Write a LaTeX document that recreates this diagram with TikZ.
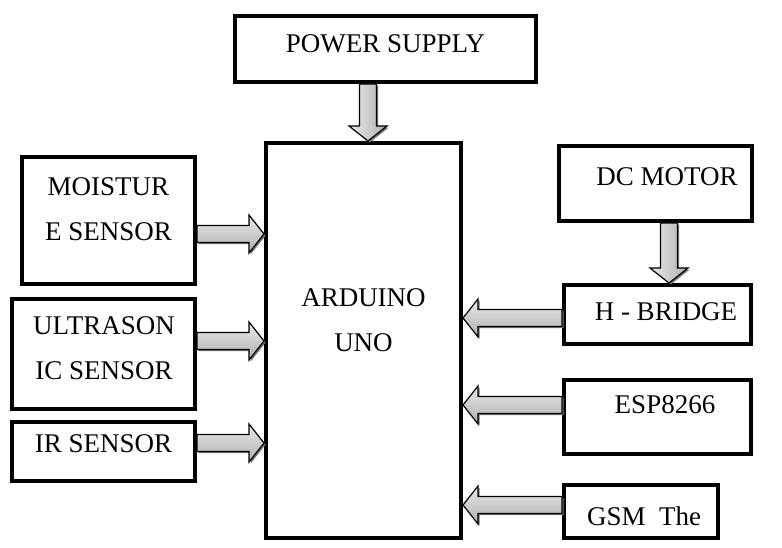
\documentclass[tikz,border=0pt]{standalone}
\usepackage{fontspec}
\setmainfont{Liberation Serif}
\usetikzlibrary{calc}
\tikzset{
  box/.style={draw=black, line width=4pt, fill=white, inner sep=0pt, rectangle},
  txt/.style={font=\fontsize{27}{45}\selectfont, inner sep=0pt, anchor=north, align=center},
  arrbody/.style={draw=black, line width=1.2pt, line join=miter},
  arrshadow/.style={fill=black!55},
  hshade/.style={top color=black!8, bottom color=black!32},
  vshade/.style={left color=black!8, right color=black!32}
}
\newcommand\blockarr[3]{%
  \coordinate (bas) at (#1);
  \coordinate (bat) at (#2);
  \coordinate (bac) at ($(bat)!15pt!(bas)$);
  \fill[arrshadow, transform canvas={shift={(1.6pt,-1.6pt)}}]
    ($(bas)!8.5pt!90:(bat)$) -- ($(bac)!8.5pt!90:(bat)$) -- ($(bac)!19pt!90:(bat)$) -- (bat)
    -- ($(bac)!19pt!-90:(bat)$) -- ($(bac)!8.5pt!-90:(bat)$) -- ($(bas)!8.5pt!-90:(bat)$) -- cycle;
  \shadedraw[arrbody, #3]
    ($(bas)!8.5pt!90:(bat)$) -- ($(bac)!8.5pt!90:(bat)$) -- ($(bac)!19pt!90:(bat)$) -- (bat)
    -- ($(bac)!19pt!-90:(bat)$) -- ($(bac)!8.5pt!-90:(bat)$) -- ($(bas)!8.5pt!-90:(bat)$) -- cycle;
}
\begin{document}
\begin{tikzpicture}[x=1pt, y=-1pt]
\useasboundingbox (0,0) rectangle (782,548);
% boxes
\node[box, minimum width=301pt, minimum height=66pt] (pow) at (385.5,49) {};
\node[box, minimum width=195pt, minimum height=395pt] (ard) at (363.5,340.5) {};
\node[box, minimum width=173pt, minimum height=127pt] (moist) at (108.5,220.5) {};
\node[box, minimum width=183pt, minimum height=110pt] (ultra) at (103.5,354) {};
\node[box, minimum width=183pt, minimum height=59pt] (ir) at (103.5,451.5) {};
\node[box, minimum width=193pt, minimum height=75pt] (dc) at (655,183.5) {};
\node[box, minimum width=187pt, minimum height=59pt] (hb) at (657.5,314.5) {};
\node[box, minimum width=187pt, minimum height=74pt] (esp) at (657.5,417) {};
\node[box, minimum width=154pt, minimum height=53pt] (gsm) at (641,511.5) {};
% texts
\node[txt] (tpow) at (385.5,34) {POWER SUPPLY};
\node[txt] (tard) at (363.5,288) {ARDUINO\\UNO};
\node[txt] (tmoist) at (108.5,177) {MOISTUR\\E SENSOR};
\node[txt] (tultra) at (104,316) {ULTRASON\\IC SENSOR};
\node[txt] (tir) at (103.5,434) {IR SENSOR};
\node[txt] (tdc) at (667,167) {DC MOTOR};
\node[txt] (thb) at (666,302) {H - BRIDGE};
\node[txt] (tesp) at (665,395) {ESP8266};
\node[txt] (tgsm) at (644,507) {GSM\ \ The};
% arrows
\blockarr{pow.south -| 368,0}{ard.north -| 368,0}{vshade}
\blockarr{moist.east |- 0,234}{ard.west |- 0,234}{hshade}
\blockarr{ultra.east |- 0,341}{ard.west |- 0,341}{hshade}
\blockarr{ir.east |- 0,443}{ard.west |- 0,443}{hshade}
\blockarr{dc.south -| 669,0}{hb.north -| 669,0}{vshade}
\blockarr{hb.west |- 0,318}{ard.east |- 0,318}{hshade}
\blockarr{esp.west |- 0,405}{ard.east |- 0,405}{hshade}
\blockarr{gsm.west |- 0,505}{ard.east |- 0,505}{hshade}
\end{tikzpicture}
\end{document}
